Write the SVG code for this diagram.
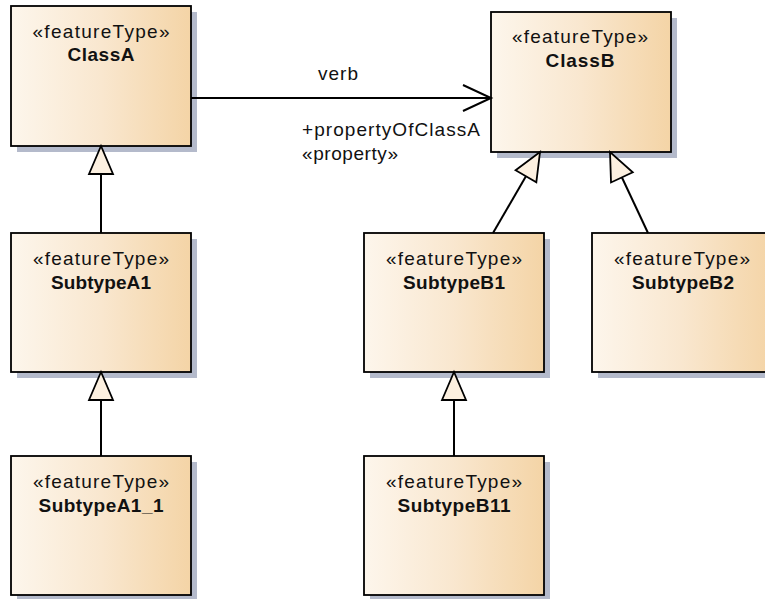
<svg xmlns="http://www.w3.org/2000/svg" width="765" height="599" viewBox="0 0 765 599">
  <style>
    .shadow { fill: #b4bacb; }
    .box { fill: url(#boxFill); stroke: #000; stroke-width: 1.8; }
    .st { font-family: "Liberation Sans", Arial, sans-serif; font-size: 19px; fill: #111; text-anchor: middle; }
    .nm { font-family: "Liberation Sans", Arial, sans-serif; font-size: 19px; font-weight: bold; fill: #111; text-anchor: middle; }
    .lbl { font-family: "Liberation Sans", Arial, sans-serif; font-size: 19px; fill: #111; }
    .edge { fill: none; stroke: #000; stroke-width: 2; }
  </style>
  <defs>
    <linearGradient id="boxFill" x1="0" y1="0" x2="1" y2="0">
      <stop offset="0" stop-color="#fdf6ec"/>
      <stop offset="0.5" stop-color="#f9e7cf"/>
      <stop offset="1" stop-color="#f4d4a6"/>
    </linearGradient>
    <!-- hollow triangle for generalization -->
    <marker id="gen" markerUnits="userSpaceOnUse" markerWidth="40" markerHeight="40" refX="28" refY="12" orient="auto" overflow="visible">
      <path d="M0,0 L28,12 L0,24 Z" fill="#fcf0e0" stroke="#000" stroke-width="1.8" stroke-linejoin="miter"/>
    </marker>
    <!-- open arrowhead for navigable association -->
    <marker id="open" markerUnits="userSpaceOnUse" markerWidth="40" markerHeight="40" refX="28" refY="13" orient="auto" overflow="visible">
      <path d="M0,0 L28,13 L0,26" fill="none" stroke="#000" stroke-width="2"/>
    </marker>
  </defs>

  <rect width="765" height="599" fill="#fff"/>

  <g id="ClassA">
    <rect class="shadow" x="17" y="12" width="180" height="140"/>
    <rect class="box" x="11" y="6" width="180" height="140"/>
    <text class="st" x="101" y="38" textLength="137" lengthAdjust="spacing">«featureType»</text>
    <text class="nm" x="101" y="61" textLength="67" lengthAdjust="spacing">ClassA</text>
  </g>

  <g id="ClassB">
    <rect class="shadow" x="497" y="18" width="180" height="140"/>
    <rect class="box" x="491" y="12" width="180" height="140"/>
    <text class="st" x="580" y="43" textLength="136" lengthAdjust="spacing">«featureType»</text>
    <text class="nm" x="580" y="67" textLength="69" lengthAdjust="spacing">ClassB</text>
  </g>

  <g id="SubtypeA1">
    <rect class="shadow" x="17" y="239" width="180" height="139"/>
    <rect class="box" x="11" y="233" width="180" height="139"/>
    <text class="st" x="101" y="265" textLength="136" lengthAdjust="spacing">«featureType»</text>
    <text class="nm" x="101" y="289" textLength="100" lengthAdjust="spacing">SubtypeA1</text>
  </g>

  <g id="SubtypeA1_1">
    <rect class="shadow" x="17" y="462" width="180" height="139"/>
    <rect class="box" x="11" y="456" width="180" height="139"/>
    <text class="st" x="101" y="488" textLength="136" lengthAdjust="spacing">«featureType»</text>
    <text class="nm" x="101" y="512" textLength="125" lengthAdjust="spacing">SubtypeA1_1</text>
  </g>

  <g id="SubtypeB1">
    <rect class="shadow" x="370" y="239" width="180" height="139"/>
    <rect class="box" x="364" y="233" width="180" height="139"/>
    <text class="st" x="454" y="265" textLength="136" lengthAdjust="spacing">«featureType»</text>
    <text class="nm" x="454" y="289" textLength="102" lengthAdjust="spacing">SubtypeB1</text>
  </g>

  <g id="SubtypeB2">
    <rect class="shadow" x="598" y="239" width="180" height="139"/>
    <rect class="box" x="592" y="233" width="180" height="139"/>
    <text class="st" x="682" y="265" textLength="136" lengthAdjust="spacing">«featureType»</text>
    <text class="nm" x="683" y="289" textLength="102" lengthAdjust="spacing">SubtypeB2</text>
  </g>

  <g id="SubtypeB11">
    <rect class="shadow" x="370" y="462" width="180" height="139"/>
    <rect class="box" x="364" y="456" width="180" height="139"/>
    <text class="st" x="454" y="488" textLength="136" lengthAdjust="spacing">«featureType»</text>
    <text class="nm" x="454" y="512" textLength="113" lengthAdjust="spacing">SubtypeB11</text>
  </g>

  <g id="connectors">
    <line class="edge" x1="191" y1="98" x2="491" y2="98" marker-end="url(#open)"/>
    <text class="lbl" x="318" y="80" textLength="40" lengthAdjust="spacing">verb</text>
    <text class="lbl" x="302" y="136" textLength="178" lengthAdjust="spacing">+propertyOfClassA</text>
    <text class="lbl" x="302" y="160" textLength="96" lengthAdjust="spacing">«property»</text>

    <line class="edge" x1="101" y1="233" x2="101" y2="146" marker-end="url(#gen)"/>
    <line class="edge" x1="101" y1="456" x2="101" y2="372" marker-end="url(#gen)"/>
    <line class="edge" x1="454" y1="456" x2="454" y2="372" marker-end="url(#gen)"/>
    <line class="edge" x1="493" y1="233" x2="540" y2="152" marker-end="url(#gen)"/>
    <line class="edge" x1="648" y1="233" x2="610" y2="152" marker-end="url(#gen)"/>
  </g>
</svg>
